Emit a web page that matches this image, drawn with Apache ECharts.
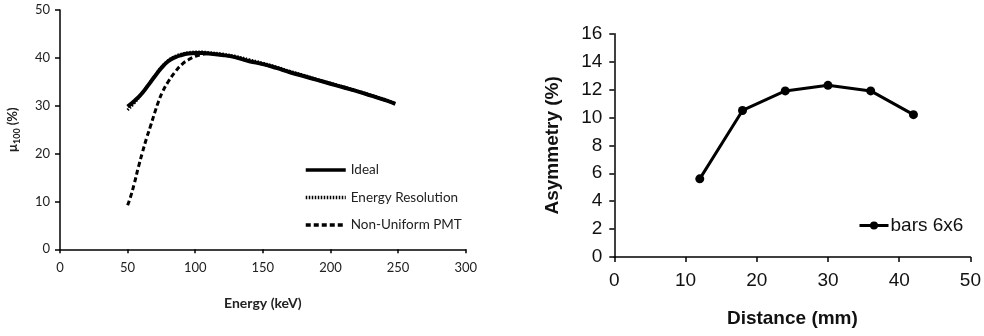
<!DOCTYPE html>
<html><head><meta charset="utf-8">
<script src="https://cdn.jsdelivr.net/npm/echarts@6/dist/echarts.min.js"></script>
<style>html,body{margin:0;padding:0;background:#fff}#c{width:984px;height:336px}</style>
</head><body><div id="c"></div>
<script>
// Left chart: mu100 vs energy
const idealPts = [[50,29.8],[55,31.0],[60,32.4],[65,34.2],[70,36.1],[75,37.9],[80,39.3],[85,40.1],[90,40.6],[95,40.9],[100,41.0],[105,41.0],[110,40.9],[120,40.6],[130,40.1],[140,39.3],[150,38.7],[160,37.9],[170,37.0],[180,36.2],[190,35.4],[200,34.6],[210,33.8],[220,33.0],[230,32.1],[240,31.2],[248,30.4]];
const energyResPts = [[50,29.1],[55,30.6],[60,32.3],[65,34.2],[70,36.2],[75,38.0],[80,39.4],[85,40.3],[90,40.8],[95,41.1],[100,41.2],[105,41.2],[110,41.1],[120,40.8],[130,40.3],[140,39.6],[150,38.9],[160,38.1],[170,37.2],[180,36.4],[190,35.5],[200,34.7],[210,33.9],[220,33.1],[230,32.2],[240,31.3],[248,30.5]];
const pmtPts = [[50,9.2],[52,10.8],[55,13.8],[58,17.2],[61,20.3],[64,23.2],[67,25.8],[70,28.5],[73,31.0],[76,33.0],[80,35.0],[85,37.0],[90,38.6],[95,39.6],[100,40.3],[105,40.7],[110,40.9],[120,40.6],[130,40.1],[140,39.3],[150,38.7],[160,37.9],[170,37.0],[180,36.2],[190,35.4],[200,34.6],[210,33.8],[220,33.0],[230,32.1],[240,31.2],[248,30.4]];
const leftNames = ['Ideal','Energy Resolution','Non-Uniform PMT'];

// Right chart: asymmetry vs distance
const distance = [12,18,24,30,36,42];
const asymmetry = [5.6,10.5,11.9,12.3,11.9,10.2];
const rightName = 'bars 6x6';

const fL = 'Lato, "Open Sans", sans-serif';
const fR = '"Liberation Sans", Arial, sans-serif';
const axisLine = {show:true, lineStyle:{color:'#000', width:1.5}};

const chart = echarts.init(document.getElementById('c'));
chart.setOption({
  animation:false,
  backgroundColor:'#fff',
  grid:[
    {left:60, top:10, width:405.7, height:239.3},
    {left:614.3, top:33.7, width:358, height:223.3}
  ],
  xAxis:[
    {gridIndex:0, type:'value', min:0, max:300, interval:50,
     axisLine:axisLine, axisTick:{show:true, length:4, lineStyle:{color:'#000', width:1.5}},
     splitLine:{show:false},
     axisLabel:{fontFamily:fL, fontSize:13, color:'#222', margin:12},
     name:'Energy (keV)', nameLocation:'middle', nameGap:47,
     nameTextStyle:{fontFamily:fL, fontSize:14, fontWeight:'bold', color:'#222'}},
    {gridIndex:1, type:'value', min:0, max:50, interval:10,
     axisLine:axisLine, axisTick:{show:true, length:5, lineStyle:{color:'#000', width:1.5}},
     splitLine:{show:false},
     axisLabel:{fontFamily:fR, fontSize:19, color:'#111', margin:14},
     name:'Distance (mm)', nameLocation:'middle', nameGap:52,
     nameTextStyle:{fontFamily:fR, fontSize:19, fontWeight:'bold', color:'#111'}}
  ],
  yAxis:[
    {gridIndex:0, type:'value', min:0, max:50, interval:10,
     axisLine:axisLine, axisTick:{show:true, length:5, lineStyle:{color:'#000', width:1.5}},
     splitLine:{show:false},
     axisLabel:{fontFamily:fL, fontSize:13, color:'#222', margin:10},
     name:'{a|μ}{b|100}{a| (%)}', nameLocation:'middle', nameGap:38,
     nameTextStyle:{fontFamily:fL, fontSize:13, fontWeight:'bold', color:'#222',
       rich:{a:{fontFamily:fL, fontSize:13, fontWeight:'bold', color:'#222', lineHeight:18},
             b:{fontFamily:fL, fontSize:9, fontWeight:'bold', color:'#222', lineHeight:18, verticalAlign:'bottom', padding:[7,0,0,0]}}}},
    {gridIndex:1, type:'value', min:0, max:16, interval:2,
     axisLine:axisLine, axisTick:{show:true, length:5, lineStyle:{color:'#000', width:1.5}},
     splitLine:{show:false},
     axisLabel:{fontFamily:fR, fontSize:19, color:'#111', margin:12},
     name:'Asymmetry (%)', nameLocation:'middle', nameGap:52,
     nameTextStyle:{fontFamily:fR, fontSize:19, fontWeight:'bold', color:'#111'}}
  ],
  legend:[
    {data:leftNames, orient:'vertical', left:299, top:158, itemWidth:40, itemHeight:14, itemGap:13.5,
     itemStyle:{opacity:0, borderWidth:0}, lineStyle:{width:3.5},
     textStyle:{fontFamily:fL, fontSize:13.5, color:'#222', lineHeight:14}},
    {data:[rightName], left:853, top:211, itemWidth:29, itemHeight:10, itemGap:0,
     lineStyle:{width:3},
     textStyle:{fontFamily:fR, fontSize:19, color:'#111', padding:[0,0,0,-3]}}
  ],
  series:[
    {name:leftNames[0], type:'line', xAxisIndex:0, yAxisIndex:0, data:idealPts, smooth:true,
     symbol:'none', lineStyle:{color:'#000', width:4}, itemStyle:{color:'#000'}},
    {name:leftNames[1], type:'line', xAxisIndex:0, yAxisIndex:0, data:energyResPts, smooth:true,
     symbol:'none', lineStyle:{color:'#000', width:3, type:[1.5,1.5]}, itemStyle:{color:'#000'}},
    {name:leftNames[2], type:'line', xAxisIndex:0, yAxisIndex:0, data:pmtPts, smooth:true,
     symbol:'none', lineStyle:{color:'#000', width:3, type:[5,3]}, itemStyle:{color:'#000'}},
    {name:rightName, type:'line', xAxisIndex:1, yAxisIndex:1,
     data:distance.map((d,i)=>[d, asymmetry[i]]),
     symbol:'circle', symbolSize:9, lineStyle:{color:'#000', width:3}, itemStyle:{color:'#000'}}
  ]
});
</script></body></html>
